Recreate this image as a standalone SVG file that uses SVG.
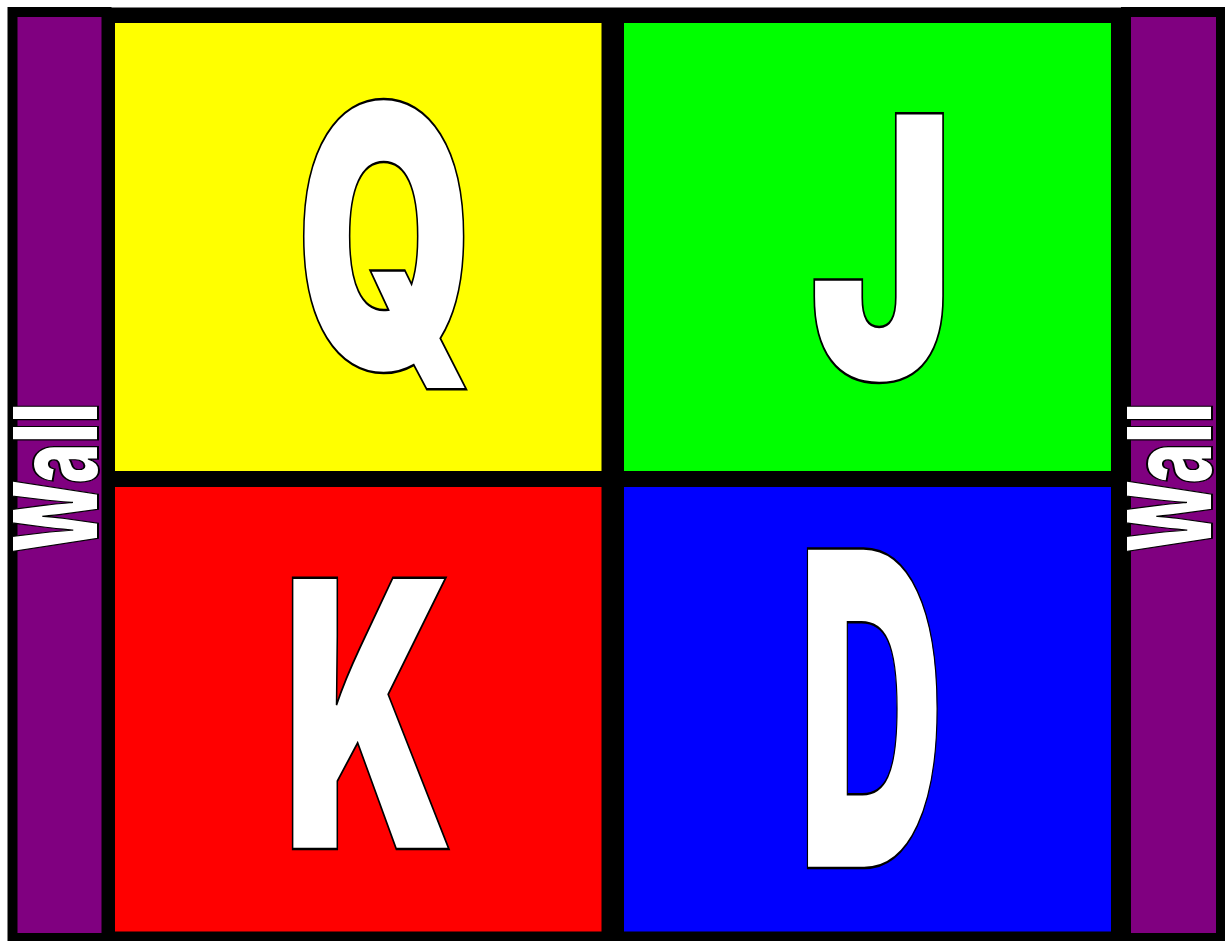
<svg xmlns="http://www.w3.org/2000/svg" width="1225" height="941" viewBox="0 0 1225 941">
<style>
.letter{font-family:Inter,"Liberation Sans",Arial,sans-serif;font-weight:900;fill:#fff;stroke:#000;stroke-width:2.5;stroke-linejoin:miter;text-anchor:middle}
.wall{fill:#800080;stroke:#000;stroke-width:10}
.walltext{font-family:Inter,"Liberation Sans",Arial,sans-serif;font-weight:900;font-size:118px;fill:#fff;stroke:#000;stroke-width:2}
</style>
<rect x="0" y="0" width="1225" height="941" fill="#fff"/>
<g id="frame"><rect x="105" y="7.5" width="1022" height="940" fill="#000"/></g>
<g id="wall-left">
<rect class="wall" x="12.5" y="12" width="94" height="926"/>
<text class="walltext" transform="translate(98,553) rotate(-90)" x="0" y="0" textLength="150" lengthAdjust="spacingAndGlyphs">Wall</text>
</g>
<g id="wall-right">
<rect class="wall" x="1126" y="12" width="95" height="926"/>
<text class="walltext" transform="translate(1212,553) rotate(-90)" x="0" y="0" textLength="150" lengthAdjust="spacingAndGlyphs">Wall</text>
</g>
<g id="node-Q">
<rect x="115" y="23" width="486.5" height="448" fill="#ffff00"/>
<text class="letter" x="385" y="369.5" font-size="367" textLength="178" lengthAdjust="spacingAndGlyphs">Q</text>
</g>
<g id="node-J">
<rect x="624" y="23" width="487" height="448" fill="#00ff00"/>
<text class="letter" x="882" y="379.5" font-size="366" textLength="145" lengthAdjust="spacingAndGlyphs">J</text>
</g>
<g id="node-K">
<rect x="115" y="487" width="486.5" height="444.5" fill="#ff0000"/>
<text class="letter" x="368" y="849" font-size="373" textLength="172" lengthAdjust="spacingAndGlyphs">K</text>
</g>
<g id="node-D">
<rect x="624" y="487" width="487" height="444.5" fill="#0000ff"/>
<text class="letter" x="871" y="868" font-size="439" textLength="146" lengthAdjust="spacingAndGlyphs">D</text>
</g>
<g id="connectors"></g>
</svg>
